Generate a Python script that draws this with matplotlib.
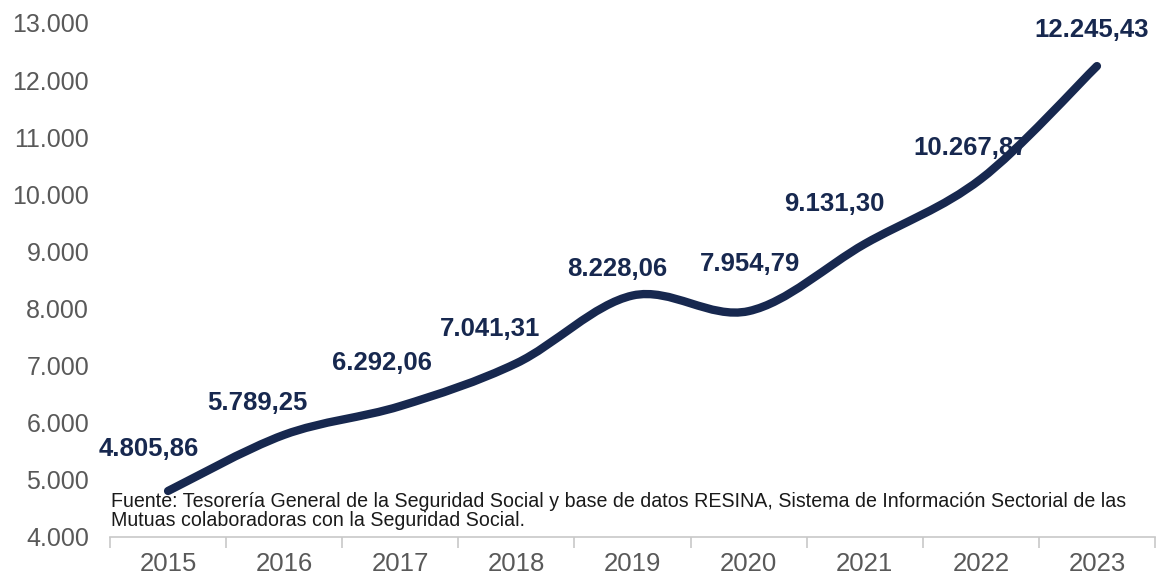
import matplotlib.pyplot as plt
from matplotlib.path import Path
from matplotlib.patches import PathPatch

years = ['2015', '2016', '2017', '2018', '2019', '2020', '2021', '2022', '2023']
values = [4805.86, 5789.25, 6292.06, 7041.31, 8228.06, 7954.79, 9131.30, 10267.87, 12245.43]
labels = ['4.805,86', '5.789,25', '6.292,06', '7.041,31', '8.228,06',
          '7.954,79', '9.131,30', '10.267,87', '12.245,43']
# label offsets in points (dx, dy) relative to each point
offsets = [(-14, 30), (-19, 23), (-13, 31), (-19, 25), (-11, 19),
           (1, 34), (-22, 29), (-7, 22), (-4, 26)]
source = ('Fuente: Tesorería General de la Seguridad Social y base de datos RESINA, '
          'Sistema de Información Sectorial de las\n'
          'Mutuas colaboradoras con la Seguridad Social.')

plt.rcParams['font.family'] = ['Liberation Sans', 'DejaVu Sans']
navy = '#17284f'

fig = plt.figure(figsize=(11.56, 5.80), dpi=100)
ax = fig.add_axes([110 / 1156, 43 / 580, 1045 / 1156, 514 / 580])

# smoothed line (Catmull-Rom as cubic Bezier, like a spreadsheet "smoothed line")
x = list(range(len(values)))
pts = list(zip(x, values))
verts = [pts[0]]
codes = [Path.MOVETO]
for i in range(len(pts) - 1):
    p0 = pts[i - 1] if i > 0 else pts[i]
    p1 = pts[i]
    p2 = pts[i + 1]
    p3 = pts[i + 2] if i + 2 < len(pts) else pts[i + 1]
    c1 = (p1[0] + (p2[0] - p0[0]) / 6, p1[1] + (p2[1] - p0[1]) / 6)
    c2 = (p2[0] - (p3[0] - p1[0]) / 6, p2[1] - (p3[1] - p1[1]) / 6)
    verts += [c1, c2, p2]
    codes += [Path.CURVE4] * 3
ax.add_patch(PathPatch(Path(verts, codes), facecolor='none', edgecolor=navy,
                       lw=6, capstyle='round', joinstyle='round'))

for xi, v, lab, (dx, dy) in zip(x, values, labels, offsets):
    ax.annotate(lab, (xi, v), xytext=(dx, dy), textcoords='offset points',
                ha='center', va='center', fontsize=18.5, fontweight='bold', color=navy)

ax.set_xlim(-0.5, 8.5)
ax.set_ylim(4000, 13000)
ax.set_yticks(range(4000, 13001, 1000))
ax.set_yticklabels([f'{v:,}'.replace(',', '.') for v in range(4000, 13001, 1000)])
ax.set_xticks(x)
ax.set_xticklabels(years)
ax.set_xticks([i - 0.5 for i in range(len(years) + 1)], minor=True)
ax.tick_params(axis='x', which='major', length=0, pad=11, labelsize=18.5, labelcolor='#595959')
ax.tick_params(axis='x', which='minor', length=8, width=1.2, color='#c8c8c8')
ax.tick_params(axis='y', length=0, pad=15, labelsize=18, labelcolor='#595959')
for s in ['top', 'right', 'left']:
    ax.spines[s].set_visible(False)
ax.spines['bottom'].set_color('#c8c8c8')
ax.spines['bottom'].set_linewidth(1.2)

ax.text(0.001, 0.087, source, transform=ax.transAxes, ha='left', va='top',
        fontsize=14.1, color='#1a1a1a', linespacing=1.0)

fig.savefig('out.png', dpi=100)
